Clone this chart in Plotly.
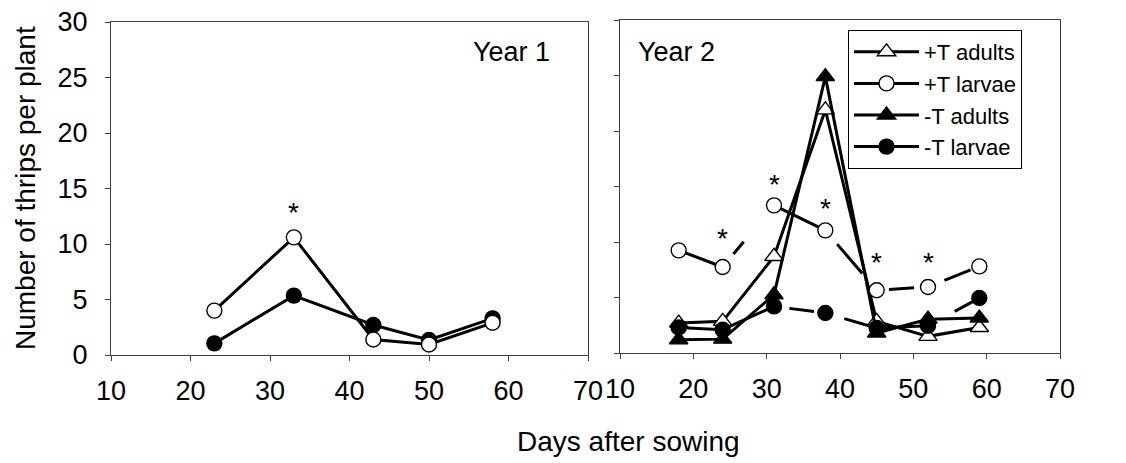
import plotly.graph_objects as go

# ---- data -------------------------------------------------------------
# Year 1: larvae only
days_y1 = [23, 33, 43, 50, 58]
y1_plus_larvae = [4.0, 10.6, 1.4, 0.95, 2.9]
y1_minus_larvae = [1.05, 5.35, 2.7, 1.35, 3.3]
y1_star_days = [33]
y1_star_level = [13.3]

# Year 2: adults and larvae with (+T) and without (-T) treatment
days_y2 = [18, 24, 31, 38, 45, 52, 59]
y2_plus_adults = [2.7, 2.85, 8.7, 21.9, 2.85, 1.5, 2.3]
y2_plus_larvae = [9.25, 7.75, 13.3, 11.05, 5.65, 5.95, 7.8]
y2_minus_adults = [1.2, 1.25, 5.25, 24.9, 1.8, 3.05, 3.15]
y2_minus_larvae = [2.3, 2.1, 4.2, 3.6, 2.25, 2.45, 4.95]
y2_star_days = [24, 31, 38, 45, 52]
y2_star_level = [10.8, 15.6, 13.5, 8.6, 8.6]

x_ticks = [10, 20, 30, 40, 50, 60, 70]
y_ticks = [0, 5, 10, 15, 20, 25, 30]

# visible part of each connecting segment (fraction along the segment)
plus_larvae_y2_segments = [(0, 1), (0.21, 0.41), (0, 1), (0.23, 0.72), (0.24, 0.73), (0.32, 0.83)]
minus_larvae_y2_segments = [(0, 1), (0, 1), (0.30, 0.78), (0.37, 0.88), (0, 1), (0.52, 0.89)]

# ---- styles -----------------------------------------------------------
FONT = "Arial, Liberation Sans, sans-serif"
AXIS_COLOR = "#404040"
LINE_W = 3

styles = {
    "+T adults": dict(symbol="triangle-up", color="white", size=16),
    "+T larvae": dict(symbol="circle", color="white", size=15),
    "-T adults": dict(symbol="triangle-up", color="black", size=16),
    "-T larvae": dict(symbol="circle", color="black", size=15),
}


def marker(name):
    st = styles[name]
    return dict(symbol=st["symbol"], size=st["size"], color=st["color"],
                line=dict(color="black", width=1.4))


def segment_path(xs, ys, parts):
    px, py = [], []
    for i, (f0, f1) in enumerate(parts):
        xa, xb, ya, yb = xs[i], xs[i + 1], ys[i], ys[i + 1]
        px += [xa + f0 * (xb - xa), xa + f1 * (xb - xa), None]
        py += [ya + f0 * (yb - ya), ya + f1 * (yb - ya), None]
    return px, py


fig = go.Figure()


def add_series(name, xs, ys, xa, ya, legend, parts=None):
    if parts is None:
        fig.add_trace(go.Scatter(
            x=xs, y=ys, mode="lines+markers", name=name, xaxis=xa, yaxis=ya,
            line=dict(color="black", width=LINE_W), marker=marker(name),
            showlegend=legend, legendgroup=name, hoverinfo="skip"))
        return
    px, py = segment_path(xs, ys, parts)
    fig.add_trace(go.Scatter(
        x=px, y=py, mode="lines", xaxis=xa, yaxis=ya,
        line=dict(color="black", width=LINE_W), showlegend=False,
        legendgroup=name, hoverinfo="skip"))
    fig.add_trace(go.Scatter(
        x=xs, y=ys, mode="markers", xaxis=xa, yaxis=ya, marker=marker(name),
        showlegend=False, legendgroup=name, hoverinfo="skip"))
    if legend:
        fig.add_trace(go.Scatter(
            x=[None], y=[None], mode="lines+markers", name=name, xaxis=xa, yaxis=ya,
            line=dict(color="black", width=LINE_W), marker=marker(name),
            showlegend=True, legendgroup=name))


# Year 1 panel
add_series("-T larvae", days_y1, y1_minus_larvae, "x", "y", False)
add_series("+T larvae", days_y1, y1_plus_larvae, "x", "y", False)

# Year 2 panel
add_series("+T adults", days_y2, y2_plus_adults, "x2", "y2", True)
add_series("+T larvae", days_y2, y2_plus_larvae, "x2", "y2", True, plus_larvae_y2_segments)
add_series("-T adults", days_y2, y2_minus_adults, "x2", "y2", True)
add_series("-T larvae", days_y2, y2_minus_larvae, "x2", "y2", True, minus_larvae_y2_segments)

# significance marks
STAR_FONT = dict(size=28, color="black", family=FONT)
annotations = []
for xv, yv in zip(y1_star_days, y1_star_level):
    annotations.append(dict(x=xv, y=yv, xref="x", yref="y", text="*", showarrow=False,
                            yanchor="middle", yshift=-5, font=STAR_FONT))
for xv, yv in zip(y2_star_days, y2_star_level):
    annotations.append(dict(x=xv, y=yv, xref="x2", yref="y2", text="*", showarrow=False,
                            yanchor="middle", yshift=-5, font=STAR_FONT))

W, H = 1126, 463
annotations += [
    dict(text="Year 1", x=552 / W, y=1 - 52 / H, xref="paper", yref="paper",
         xanchor="right", yanchor="middle", showarrow=False,
         font=dict(size=27, color="black", family=FONT)),
    dict(text="Year 2", x=636 / W, y=1 - 52 / H, xref="paper", yref="paper",
         xanchor="left", yanchor="middle", showarrow=False,
         font=dict(size=27, color="black", family=FONT)),
    dict(text="Number of thrips per plant", x=26 / W, y=1 - 188 / H, xref="paper", yref="paper",
         xanchor="center", yanchor="middle", textangle=-90, showarrow=False,
         font=dict(size=28, color="black", family=FONT)),
    dict(text="Days after sowing", x=628 / W, y=1 - 441 / H, xref="paper", yref="paper",
         xanchor="center", yanchor="middle", showarrow=False,
         font=dict(size=28, color="black", family=FONT)),
]

axis_common = dict(
    showline=True, linecolor=AXIS_COLOR, linewidth=1, mirror=True,
    ticks="outside", ticklen=5, tickcolor=AXIS_COLOR, tickwidth=1,
    showgrid=False, zeroline=False, automargin=False,
    tickfont=dict(size=27, color="black", family=FONT),
)

fig.update_layout(
    template="none",
    width=W, height=H,
    margin=dict(l=0, r=0, t=0, b=0, pad=0, autoexpand=False),
    paper_bgcolor="white", plot_bgcolor="white",
    font=dict(family=FONT, color="black"),
    xaxis=dict(domain=[111 / W, 588 / W], range=[10, 70], tickvals=x_ticks,
               anchor="y", ticklabelstandoff=7, **axis_common),
    yaxis=dict(domain=[1 - 355 / H, 1 - 22 / H], range=[0, 30], tickvals=y_ticks,
               anchor="x", ticklabelstandoff=12, **axis_common),
    xaxis2=dict(domain=[620 / W, 1060 / W], range=[10, 70], tickvals=x_ticks,
                anchor="y2", ticklabelstandoff=7, **axis_common),
    yaxis2=dict(domain=[1 - 353 / H, 1 - 20 / H], range=[0, 30], tickvals=y_ticks,
                anchor="x2", showticklabels=False, **axis_common),
    legend=dict(x=848 / W, y=1 - 30 / H, xanchor="left", yanchor="top",
                bgcolor="white", bordercolor="black", borderwidth=1,
                font=dict(size=22, color="black", family=FONT),
                itemwidth=65, traceorder="grouped", tracegroupgap=0),
    annotations=annotations,
    showlegend=True,
)

fig.write_html("out.html")
